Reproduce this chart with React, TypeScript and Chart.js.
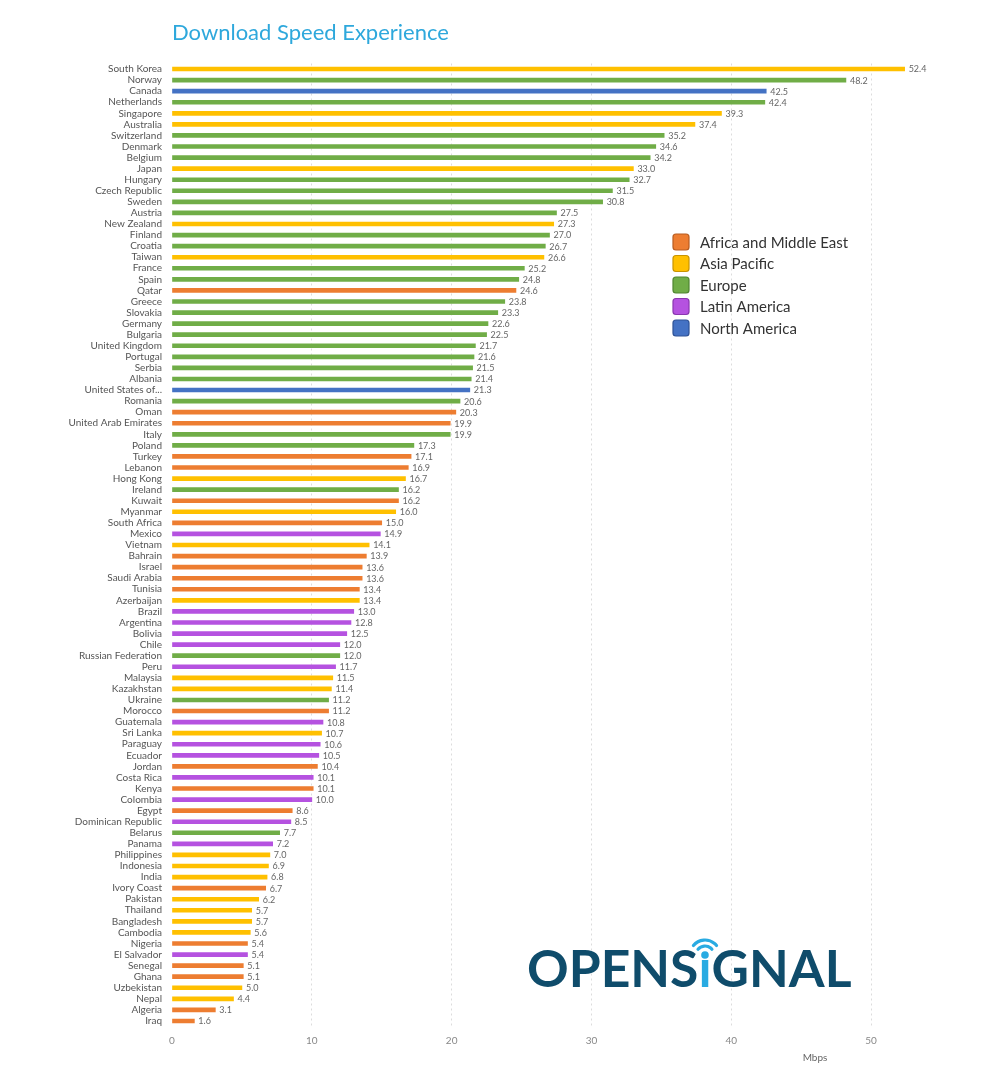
import React, { useEffect, useRef } from "react";
import { Chart, registerables } from "chart.js";

Chart.register(...registerables);

const countries = [
  "South Korea", "Norway", "Canada", "Netherlands", "Singapore", "Australia", "Switzerland", "Denmark", "Belgium", "Japan",
  "Hungary", "Czech Republic", "Sweden", "Austria", "New Zealand", "Finland", "Croatia", "Taiwan", "France", "Spain",
  "Qatar", "Greece", "Slovakia", "Germany", "Bulgaria", "United Kingdom", "Portugal", "Serbia", "Albania", "United States of...",
  "Romania", "Oman", "United Arab Emirates", "Italy", "Poland", "Turkey", "Lebanon", "Hong Kong", "Ireland", "Kuwait",
  "Myanmar", "South Africa", "Mexico", "Vietnam", "Bahrain", "Israel", "Saudi Arabia", "Tunisia", "Azerbaijan", "Brazil",
  "Argentina", "Bolivia", "Chile", "Russian Federation", "Peru", "Malaysia", "Kazakhstan", "Ukraine", "Morocco", "Guatemala",
  "Sri Lanka", "Paraguay", "Ecuador", "Jordan", "Costa Rica", "Kenya", "Colombia", "Egypt", "Dominican Republic", "Belarus",
  "Panama", "Philippines", "Indonesia", "India", "Ivory Coast", "Pakistan", "Thailand", "Bangladesh", "Cambodia", "Nigeria",
  "El Salvador", "Senegal", "Ghana", "Uzbekistan", "Nepal", "Algeria", "Iraq",
];

const speeds = [
  52.4, 48.2, 42.5, 42.4, 39.3, 37.4, 35.2, 34.6, 34.2, 33.0,
  32.7, 31.5, 30.8, 27.5, 27.3, 27.0, 26.7, 26.6, 25.2, 24.8,
  24.6, 23.8, 23.3, 22.6, 22.5, 21.7, 21.6, 21.5, 21.4, 21.3,
  20.6, 20.3, 19.9, 19.9, 17.3, 17.1, 16.9, 16.7, 16.2, 16.2,
  16.0, 15.0, 14.9, 14.1, 13.9, 13.6, 13.6, 13.4, 13.4, 13.0,
  12.8, 12.5, 12.0, 12.0, 11.7, 11.5, 11.4, 11.2, 11.2, 10.8,
  10.7, 10.6, 10.5, 10.4, 10.1, 10.1, 10.0, 8.6, 8.5, 7.7,
  7.2, 7.0, 6.9, 6.8, 6.7, 6.2, 5.7, 5.7, 5.6, 5.4,
  5.4, 5.1, 5.1, 5.0, 4.4, 3.1, 1.6,
];

// A = Africa and Middle East, P = Asia Pacific, E = Europe, L = Latin America, N = North America
const regionOf = [
  "P", "E", "N", "E", "P", "P", "E", "E", "E", "P",
  "E", "E", "E", "E", "P", "E", "E", "P", "E", "E",
  "A", "E", "E", "E", "E", "E", "E", "E", "E", "N",
  "E", "A", "A", "E", "E", "A", "A", "P", "E", "A",
  "P", "A", "L", "P", "A", "A", "A", "A", "P", "L",
  "L", "L", "L", "E", "L", "P", "P", "E", "A", "L",
  "P", "L", "L", "A", "L", "A", "L", "A", "L", "E",
  "L", "P", "P", "P", "A", "P", "P", "P", "P", "A",
  "L", "A", "A", "P", "P", "A", "A",
];

const regionCodes = ["A", "P", "E", "L", "N"];
const regionNames = ["Africa and Middle East", "Asia Pacific", "Europe", "Latin America", "North America"];
const regionColors = ["#ED7D31", "#FFC000", "#70AD47", "#B552E0", "#4472C4"];
const regionBorders = ["#b85c20", "#c89400", "#4f8530", "#8a37b0", "#2e5296"];
const xTicks = [0, 10, 20, 30, 40, 50];

const overlayPlugin = {
  id: "overlay",
  afterDatasetsDraw(chart: any) {
    const ctx = chart.ctx;
    ctx.save();
    ctx.font = "9px Lato";
    ctx.fillStyle = "#666";
    ctx.textAlign = "left";
    ctx.textBaseline = "middle";
    chart.data.datasets.forEach((ds: any, di: number) => {
      const meta = chart.getDatasetMeta(di);
      meta.data.forEach((bar: any, j: number) => {
        const v = ds.data[j];
        if (v == null) return;
        ctx.fillText(v.toFixed(1), bar.x + 4, bar.y + 0.5);
      });
    });
    ctx.restore();
  },
  afterDraw(chart: any) {
    const ctx = chart.ctx;
    ctx.save();
    // title
    ctx.font = "22px Lato";
    ctx.fillStyle = "#2ea8dc";
    ctx.textAlign = "left";
    ctx.textBaseline = "middle";
    ctx.fillText("Download Speed Experience", 172, 33);

    // legend
    ctx.font = "15px Lato";
    ctx.textBaseline = "middle";
    regionNames.forEach((name, i) => {
      const cy = 242 + i * 21.5;
      ctx.beginPath();
      ctx.roundRect(673, cy - 8, 16, 16, 3);
      ctx.fillStyle = regionColors[i];
      ctx.fill();
      ctx.lineWidth = 1.2;
      ctx.strokeStyle = regionBorders[i];
      ctx.stroke();
      ctx.fillStyle = "#333";
      ctx.fillText(name, 700, cy + 1);
    });

    // axis unit
    ctx.font = "10px Lato";
    ctx.fillStyle = "#666";
    ctx.textAlign = "center";
    ctx.fillText("Mbps", 815, 1058);

    // logo
    const left = 527;
    const right = 851;
    const base = 987;
    let size = 50;
    ctx.font = `bold ${size}px Lato`;
    const total = ctx.measureText("OPENSıGNAL").width;
    size = (size * (right - left)) / total;
    ctx.font = `bold ${size}px Lato`;
    ctx.textAlign = "left";
    ctx.textBaseline = "alphabetic";
    const dark = "#0f4c6b";
    const blue = "#29abe2";
    ctx.fillStyle = dark;
    ctx.fillText("OPENS", left, base);
    const w1 = ctx.measureText("OPENS").width;
    const wi = ctx.measureText("ı").width;
    ctx.fillStyle = blue;
    ctx.fillText("ı", left + w1, base);
    ctx.fillStyle = dark;
    ctx.fillText("GNAL", left + w1 + wi, base);
    const ix = left + w1 + wi / 2;
    const iy = 955;
    ctx.fillStyle = blue;
    ctx.beginPath();
    ctx.arc(ix, iy, 3.8, 0, Math.PI * 2);
    ctx.fill();
    ctx.strokeStyle = blue;
    ctx.lineWidth = 3.2;
    ctx.lineCap = "round";
    [9, 15].forEach((r) => {
      ctx.beginPath();
      ctx.arc(ix, iy, r, Math.PI * 1.22, Math.PI * 1.78);
      ctx.stroke();
    });
    ctx.restore();
  },
};

export default function App() {
  const ref = useRef<HTMLCanvasElement | null>(null);
  useEffect(() => {
    Chart.defaults.font.family = "Lato";
    const datasets = regionCodes.map((code, ri) => ({
      label: regionNames[ri],
      data: speeds.map((v, i) => (regionOf[i] === code ? v : null)),
      backgroundColor: regionColors[ri],
      barThickness: 4,
    }));
    const chart = new Chart(ref.current as HTMLCanvasElement, {
      type: "bar",
      data: { labels: countries, datasets: datasets as any },
      options: {
        indexAxis: "y",
        animation: false,
        responsive: false,
        maintainAspectRatio: false,
        layout: { padding: { top: 63.5, right: 59, left: 0, bottom: 0 } },
        plugins: { legend: { display: false }, tooltip: { enabled: false }, title: { display: false } },
        scales: {
          x: {
            stacked: true,
            min: 0,
            max: 55,
            afterBuildTicks: (scale: any) => {
              scale.ticks = xTicks.map((v) => ({ value: v }));
            },
            afterFit: (scale: any) => {
              scale.height = 56.5;
            },
            ticks: { color: "#888", font: { size: 10 }, padding: 8 },
            grid: {
              drawTicks: false,
              color: (c: any) => (c.tick && c.tick.value === 0 ? "rgba(0,0,0,0)" : "#dcdcdc"),
              lineWidth: 1,
            },
            border: { display: false, dash: [2, 3] },
          },
          y: {
            stacked: true,
            afterFit: (scale: any) => {
              scale.width = 172;
            },
            ticks: { autoSkip: false, color: "#555", font: { size: 10 }, padding: 10 },
            grid: { display: false, drawTicks: false },
            border: { display: false },
          },
        },
      },
      plugins: [overlayPlugin],
    });
    return () => chart.destroy();
  }, []);
  return (
    <div style={{ position: "absolute", left: 0, top: 0, width: 1000, height: 1083, background: "#fff" }}>
      <canvas ref={ref} width={1000} height={1083} style={{ width: 1000, height: 1083, display: "block" }} />
    </div>
  );
}
